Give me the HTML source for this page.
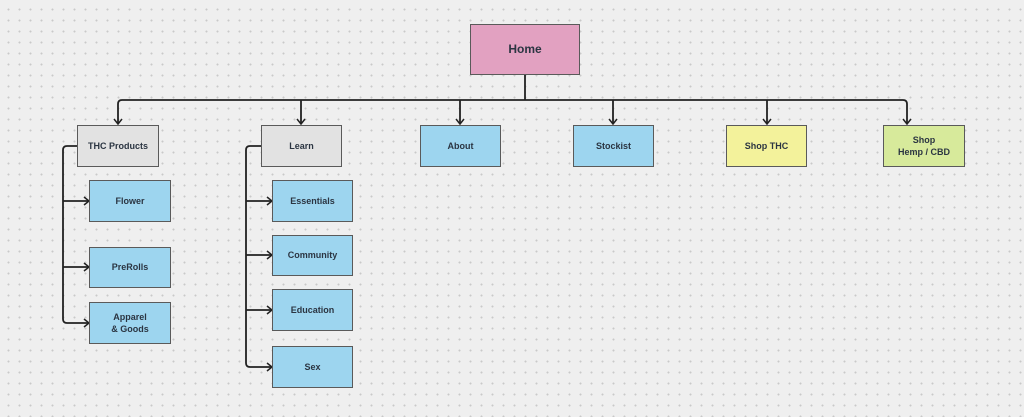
<!DOCTYPE html>
<html><head><style>
html,body{margin:0;padding:0}
body{width:1024px;height:417px;overflow:hidden;background:#efefef;
background-image:radial-gradient(circle,#c9c9c9 0.8px,transparent 1.2px);background-size:11px 11px;background-position:3px 4px;position:relative;
font-family:"Liberation Sans",sans-serif}
.b{position:absolute;box-sizing:border-box;border:1.5px solid #5a5a5a;display:flex;align-items:center;justify-content:center;text-align:center;font-weight:bold;font-size:9px;color:#2b3542;line-height:1.35}
.bl{background:#9dd5ef}.g{background:#e2e2e2}
</style></head><body>
<svg width="1024" height="417" style="position:absolute;left:0;top:0" fill="none" stroke="#222" stroke-width="1.8">
<path d="M525 75V100"/>
<path d="M118 124V104Q118 100 122 100H903Q907 100 907 104V124"/>
<path d="M301 100V124M460 100V124M613 100V124M767 100V124"/>
<g stroke-width="1.5">
<path d="M114 119L118 124L122 119M297 119L301 124L305 119M456 119L460 124L464 119M609 119L613 124L617 119M763 119L767 124L771 119M903 119L907 124L911 119"/>
</g>
<path d="M77 146H67Q63 146 63 150V319Q63 323 67 323H88M63 201H88M63 267H88"/>
<path d="M261 146H250Q246 146 246 150V363Q246 367 250 367H271M246 201H271M246 255H271M246 310H271"/>
<g stroke-width="1.5">
<path d="M84 197L89 201L84 205M84 263L89 267L84 271M84 319L89 323L84 327"/>
<path d="M267 197L272 201L267 205M267 251L272 255L267 259M267 306L272 310L267 314M267 363L272 367L267 371"/>
</g>
</svg>
<div class="b" style="left:470px;top:24px;width:110px;height:51px;background:#e2a1c1;font-size:12px">Home</div>
<div class="b g" style="left:77px;top:125px;width:82px;height:42px">THC Products</div>
<div class="b g" style="left:261px;top:125px;width:81px;height:42px">Learn</div>
<div class="b bl" style="left:420px;top:125px;width:81px;height:42px">About</div>
<div class="b bl" style="left:573px;top:125px;width:81px;height:42px">Stockist</div>
<div class="b" style="left:726px;top:125px;width:81px;height:42px;background:#f3f29b">Shop THC</div>
<div class="b" style="left:883px;top:125px;width:82px;height:42px;background:#d7ea9b">Shop<br>Hemp / CBD</div>
<div class="b bl" style="left:89px;top:180px;width:82px;height:42px">Flower</div>
<div class="b bl" style="left:89px;top:247px;width:82px;height:41px">PreRolls</div>
<div class="b bl" style="left:89px;top:302px;width:82px;height:42px">Apparel<br>&amp; Goods</div>
<div class="b bl" style="left:272px;top:180px;width:81px;height:42px">Essentials</div>
<div class="b bl" style="left:272px;top:235px;width:81px;height:41px">Community</div>
<div class="b bl" style="left:272px;top:289px;width:81px;height:42px">Education</div>
<div class="b bl" style="left:272px;top:346px;width:81px;height:42px">Sex</div>
</body></html>
